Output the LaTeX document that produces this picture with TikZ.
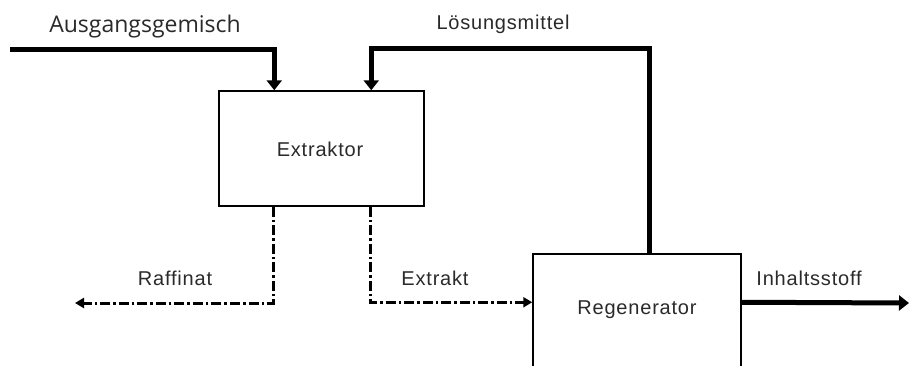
\documentclass[tikz,border=0pt]{standalone}
\usepackage{fontspec}
\setmainfont{Liberation Sans}[LetterSpace=4]
\newfontfamily\opensans{Open Sans}
\usetikzlibrary{arrows.meta,calc}
\definecolor{txt}{HTML}{2A2A2A}
\tikzset{
  box/.style={draw=black, line width=1.5bp, fill=white, inner sep=0pt},
  lbl/.style={text=txt, font=\fontsize{20bp}{22bp}\selectfont, inner sep=0pt},
  thickline/.style={line width=5bp, -{Triangle[width=15bp,length=10bp]}},
  dashline/.style={line width=3bp, dash pattern=on 10bp off 3bp on 2.5bp off 3bp, -{Triangle[width=10bp,length=9bp]}},
}
\begin{document}
\begin{tikzpicture}[x=1bp,y=-1bp]
\useasboundingbox (0,0) rectangle (909,365);
\clip (0,0) rectangle (909,365);
\fill[white] (0,0) rectangle (909,365);
% boxes
\node[box, minimum width=205bp, minimum height=115bp] (ext) at (321.5,148.5) {};
\node[lbl] (extl) at (320,149) {Extraktor};
\node[box, minimum width=208bp, minimum height=130bp] (reg) at (637,319) {};
\node[lbl] (regl) at (637,310) {Regenerator};
% coordinates
\coordinate (a0) at (10,49);
\coordinate (raf) at (75,303);
\coordinate (out) at (909,303);
% labels
\node[text=txt, inner sep=0pt, font=\opensans\fontsize{23bp}{26bp}\selectfont] (ausl) at (145,27) {Ausgangsgemisch};
\node[lbl] (loesl) at (503,24) {Lösungsmittel};
\node[lbl] (rafl) at (175,278) {Raffinat};
\node[lbl] (extrl) at (435,278) {Extrakt};
\node[lbl] (inhl) at (809,278) {Inhaltsstoff};
% connectors
\draw[thickline] (a0) -| ($(ext.north west)+(56,0)$);
\draw[thickline] ($(reg.north west)+(117,0)$) |- ($(ext.north west)+(153,-42)$) -- ($(ext.north west)+(153,0)$);
\draw[dashline] ($(ext.south west)+(55,0)$) |- (raf);
\draw[dashline] ($(ext.south west)+(152,0)$) |- ($(reg.north west)+(0,49)$);
\draw[thickline] ($(reg.north east)+(0,49)$) -- (out);
\end{tikzpicture}
\end{document}
